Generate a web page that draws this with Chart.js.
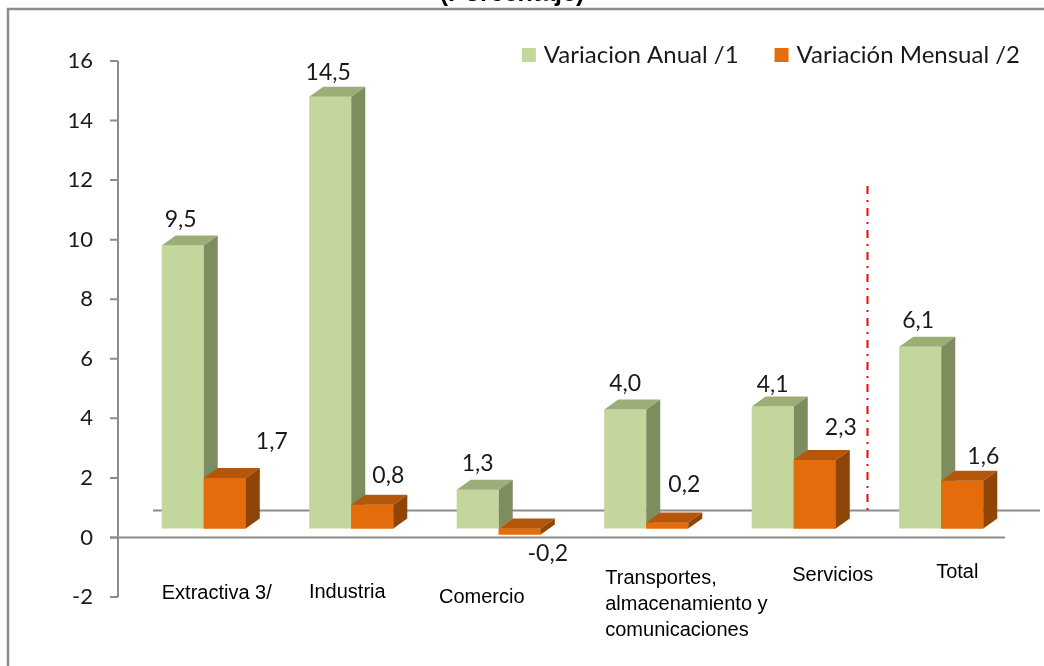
<!DOCTYPE html>
<html>
<head>
<meta charset="utf-8">
<script src="https://cdn.jsdelivr.net/npm/chart.js@4.4.0/dist/chart.umd.min.js"></script>
<style>
	html, body { margin: 0; padding: 0; background: #fff; }
	#wrap { position: relative; width: 1044px; height: 666px; }
</style>
</head>
<body>
<div id="wrap"><canvas id="myChart" width="1044" height="666"></canvas></div>
<script>
// Data
const chartTitle = '(Porcentaje)';
const categories = ['Extractiva 3/', 'Industria', 'Comercio', ['Transportes,', 'almacenamiento y', 'comunicaciones'], 'Servicios', 'Total'];
const seriesNames = ['Variacion Anual /1', 'Variación Mensual /2'];
const anual = [9.5, 14.5, 1.3, 4.0, 4.1, 6.1];
const mensual = [1.7, 0.8, -0.2, 0.2, 2.3, 1.6];
const yTicks = [-2, 0, 2, 4, 6, 8, 10, 12, 14, 16];

const fmt = (v) => v.toFixed(1).replace('.', ',');

// 3D look
const GREEN = { front: '#C3D69B', top: '#9DAD78', side: '#7D8D5E' };
const ORANGE = { front: '#E46C0A', top: '#B5570A', side: '#8F4507' };
const DX = 14, DY = 10;
const NUM_FONT = '23px Lato, "Open Sans", sans-serif';
const LEG_FONT = '24px Lato, "Open Sans", sans-serif';
const CAT_FONT = '20px "Liberation Sans", Arial, sans-serif';
const GRAY = '#8C8C8C';

function faces(ctx, el, col) {
	const { x, y, base, width } = el.getProps(['x', 'y', 'base', 'width'], true);
	const l = x - width / 2, r = x + width / 2;
	const top = Math.min(y, base), bot = Math.max(y, base);
	// top face
	ctx.fillStyle = col.top;
	ctx.beginPath();
	ctx.moveTo(l, top);
	ctx.lineTo(l + DX, top - DY);
	ctx.lineTo(r + DX, top - DY);
	ctx.lineTo(r, top);
	ctx.closePath();
	ctx.fill();
	// side face
	ctx.fillStyle = col.side;
	ctx.beginPath();
	ctx.moveTo(r, top);
	ctx.lineTo(r + DX, top - DY);
	ctx.lineTo(r + DX, bot - DY);
	ctx.lineTo(r, bot);
	ctx.closePath();
	ctx.fill();
}

const deco = {
	id: 'deco',
	beforeDraw(chart) {
		const ctx = chart.ctx;
		ctx.save();
		ctx.fillStyle = '#fff';
		ctx.fillRect(0, 0, chart.width, chart.height);
		// outer frame
		ctx.strokeStyle = GRAY;
		ctx.lineWidth = 2.5;
		ctx.beginPath();
		ctx.moveTo(8, chart.height);
		ctx.lineTo(8, 9);
		ctx.lineTo(chart.width, 9);
		ctx.stroke();
		// title, mostly cut off at the top
		ctx.fillStyle = '#000';
		ctx.font = 'bold 25px "Liberation Sans", Arial, sans-serif';
		ctx.textAlign = 'center';
		ctx.textBaseline = 'alphabetic';
		ctx.fillText(chartTitle, 512, 1);
		ctx.restore();
	},
	beforeDatasetsDraw(chart) {
		const ctx = chart.ctx;
		const ys = chart.scales.y, xs = chart.scales.x;
		const ax = 118;
		const y0 = ys.getPixelForValue(0);
		ctx.save();
		ctx.strokeStyle = GRAY;
		ctx.lineWidth = 2;
		// back wall floor line
		ctx.beginPath();
		ctx.moveTo(ax + 35, y0 - 27);
		ctx.lineTo(1040, y0 - 27);
		ctx.stroke();
		// front zero line
		ctx.beginPath();
		ctx.moveTo(ax - 8, y0);
		ctx.lineTo(xs.right - 10, y0);
		ctx.stroke();
		// value axis
		ctx.beginPath();
		ctx.moveTo(ax, ys.getPixelForValue(yTicks[yTicks.length - 1]));
		ctx.lineTo(ax, ys.getPixelForValue(yTicks[0]));
		yTicks.forEach((t) => {
			const py = ys.getPixelForValue(t);
			ctx.moveTo(ax - 8, py);
			ctx.lineTo(ax, py);
		});
		ctx.stroke();
		// red separator before Total
		const sx = (xs.getPixelForTick(4) + xs.getPixelForTick(5)) / 2;
		ctx.strokeStyle = '#FF0000';
		ctx.setLineDash([8, 6, 2, 6]);
		ctx.beginPath();
		ctx.moveTo(sx, ys.getPixelForValue(11.8));
		ctx.lineTo(sx, ys.getPixelForValue(0.75));
		ctx.stroke();
		ctx.restore();
	},
	afterDatasetsDraw(chart) {
		const ctx = chart.ctx;
		const g = chart.getDatasetMeta(0).data;
		const o = chart.getDatasetMeta(1).data;
		ctx.save();
		for (let i = 0; i < g.length; i++) {
			faces(ctx, g[i], GREEN);
			o[i].draw(ctx);
			faces(ctx, o[i], ORANGE);
		}
		ctx.restore();
	},
	afterDraw(chart, args, opts) {
		const ctx = chart.ctx;
		const xs = chart.scales.x;
		ctx.save();
		// value labels
		ctx.font = NUM_FONT;
		ctx.fillStyle = '#1A1A1A';
		ctx.textAlign = 'center';
		ctx.textBaseline = 'middle';
		[0, 1].forEach((d) => {
			const meta = chart.getDatasetMeta(d);
			const shift = opts.valueShift[d];
			meta.data.forEach((el, i) => {
				const v = chart.data.datasets[d].data[i];
				ctx.fillText(fmt(v), el.x + shift[i][0], el.y + shift[i][1]);
			});
		});
		// category labels
		ctx.font = CAT_FONT;
		ctx.fillStyle = '#000';
		categories.forEach((c, i) => {
			const p = opts.catPos[i];
			const lines = Array.isArray(c) ? c : [c];
			ctx.textAlign = p[2];
			lines.forEach((ln, k) => {
				ctx.fillText(ln, xs.getPixelForTick(i) + p[0], 590 + p[1] + k * 26);
			});
		});
		// legend
		ctx.font = LEG_FONT;
		ctx.textAlign = 'left';
		const cols = [GREEN.front, ORANGE.front];
		const widths = seriesNames.map((s) => ctx.measureText(s).width);
		const box = 14, gap = 8, itemGap = 36;
		let lx = 1020 - (widths[0] + widths[1] + 2 * (box + gap) + itemGap);
		seriesNames.forEach((s, i) => {
			ctx.fillStyle = cols[i];
			ctx.fillRect(lx, 48, box, box);
			ctx.fillStyle = '#1A1A1A';
			ctx.fillText(s, lx + box + gap, 55);
			lx += box + gap + widths[i] + itemGap;
		});
		ctx.restore();
	}
};

const ctx = document.getElementById('myChart').getContext('2d');
const myChart = new Chart(ctx, {
	type: 'bar',
	data: {
		labels: categories,
		datasets: [
			{
				label: seriesNames[0],
				data: anual,
				backgroundColor: GREEN.front,
				borderWidth: 0,
				yAxisID: 'yb'
			},
			{
				label: seriesNames[1],
				data: mensual,
				backgroundColor: ORANGE.front,
				borderWidth: 0,
				yAxisID: 'yb'
			}
		]
	},
	options: {
		responsive: false,
		devicePixelRatio: 1,
		animation: false,
		layout: { padding: { left: 0, top: 61, right: 29, bottom: 69 } },
		datasets: { bar: { categoryPercentage: 0.57, barPercentage: 1 } },
		scales: {
			x: { display: false },
			y: {
				position: 'left',
				min: -2,
				max: 16,
				afterFit: (scale) => { scale.width = 130; },
				afterBuildTicks: (scale) => { scale.ticks = yTicks.map((v) => ({ value: v })); },
				grid: { display: false, drawTicks: false },
				border: { display: false },
				ticks: {
					padding: 37,
					color: '#1A1A1A',
					font: { family: 'Lato, "Open Sans", sans-serif', size: 22 }
				}
			},
			// bars sit on the 3D floor, a bit above the axis zero
			yb: { display: false, min: -2.3, max: 15.7 }
		},
		plugins: {
			legend: { display: false },
			tooltip: { enabled: false },
			deco: {
				valueShift: [
					[[-2, -26], [-2, -24], [0, -26], [0, -26], [0, -22], [-2, -26]],
					[[47, -36], [16, -29], [28, 19], [17, -38], [26, -32], [21, -24]]
				],
				catPos: [[13, 3, 'center'], [-4, 2, 'center'], [-17, 7, 'center'], [-41, -12, 'left'], [39, -15, 'center'], [16, -18, 'center']]
			}
		}
	},
	plugins: [deco]
});
</script>
</body>
</html>
